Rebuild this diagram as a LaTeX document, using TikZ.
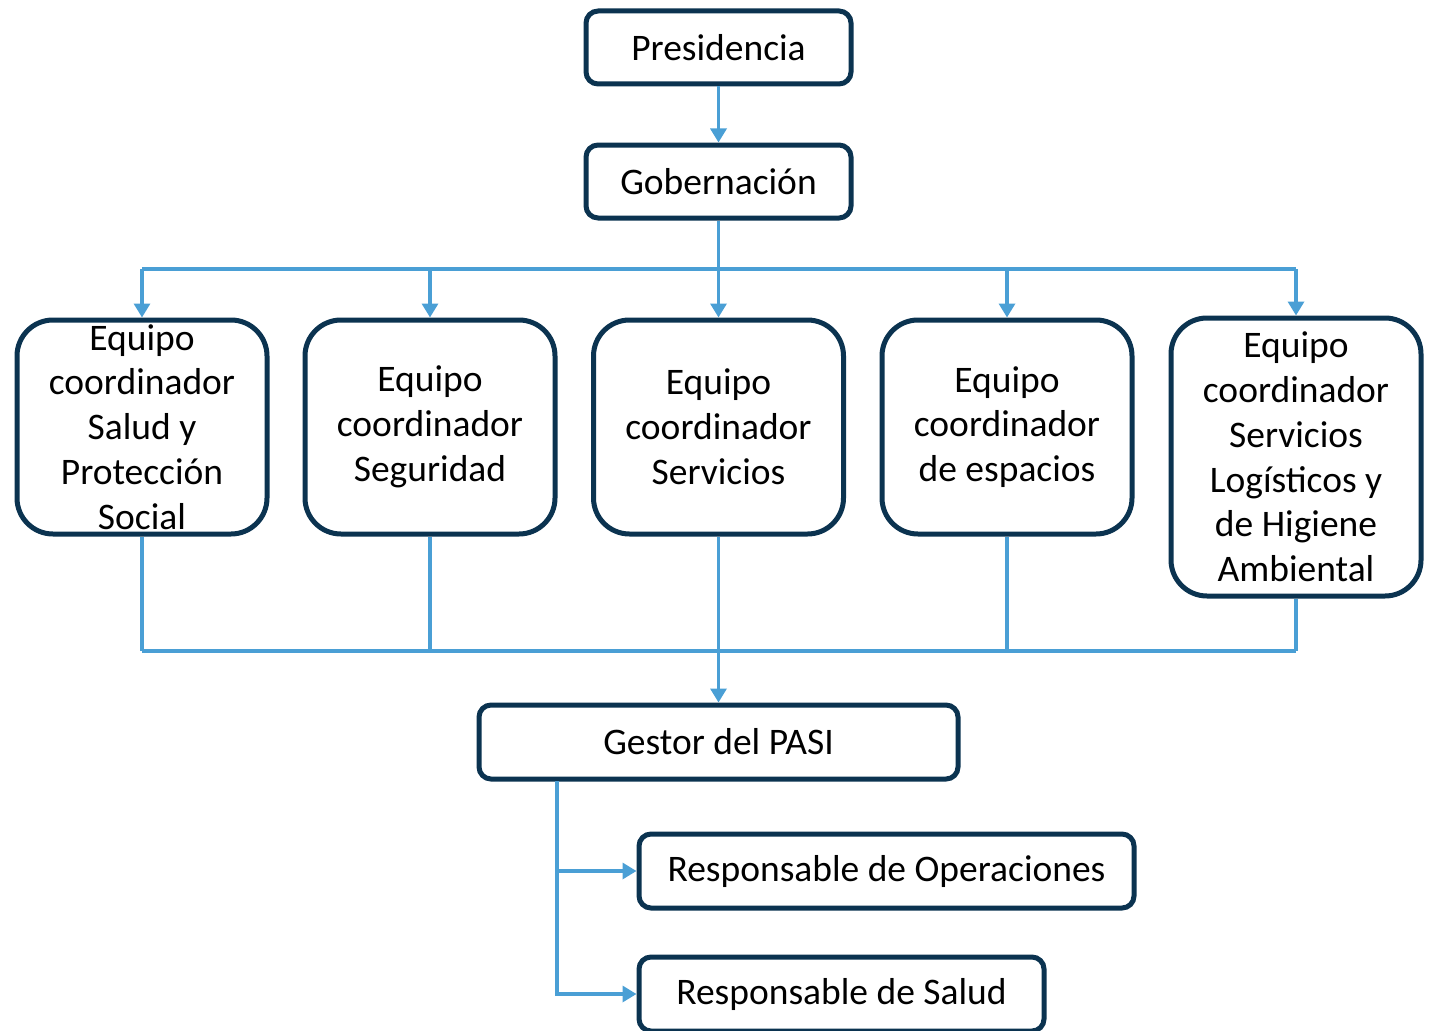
\documentclass[tikz,border=0pt]{standalone}
\usepackage{fontspec}
\setmainfont{Carlito}
\usetikzlibrary{arrows.meta}
\definecolor{navy}{HTML}{0B3350}
\definecolor{lblue}{HTML}{4A9FD5}
\tikzset{
  smallbox/.style={draw=navy, line width=5pt, rounded corners=12pt, fill=white,
    inner sep=0pt, align=center, font=\fontsize{37.5}{45}\selectfont},
  bigbox/.style={draw=navy, line width=5pt, rounded corners=36pt, fill=white,
    inner sep=0pt, align=center, minimum width=250pt, font=\fontsize{37.5}{44.8}\selectfont},
  conn/.style={draw=lblue, line width=3.3pt},
  arr/.style={conn, -{Triangle[width=16pt,length=14pt]}}
}
\begin{document}
\begin{tikzpicture}[x=1pt,y=-1pt]
\useasboundingbox (0,0) rectangle (1431,1030);
\node[smallbox, minimum width=265pt, minimum height=73pt] (pres) at (718.5,47.5) {Presidencia};
\node[smallbox, minimum width=265pt, minimum height=73pt] (gob) at (718.5,181.5) {Gobernación};

\node[bigbox, minimum height=214pt] (e1) at (142,427) {Equipo\\coordinador\\Salud y\\Protección\\Social};
\node[bigbox, minimum height=214pt] (e2) at (430,427) {Equipo\\coordinador\\Seguridad};
\node[bigbox, minimum height=214pt] (e3) at (718.5,427) {Equipo\\coordinador\\Servicios};
\node[bigbox, minimum height=214pt] (e4) at (1007,427) {Equipo\\coordinador\\de espacios};
\node[bigbox, minimum height=278pt] (e5) at (1296,457) {Equipo\\coordinador\\Servicios\\Logísticos y\\de Higiene\\Ambiental};

\node[smallbox, minimum width=479pt, minimum height=74pt] (ges) at (718.5,742) {Gestor del PASI};
\node[smallbox, minimum width=495pt, minimum height=74pt] (ops) at (886.5,871) {Responsable de Operaciones};
\node[smallbox, minimum width=405pt, minimum height=74pt] (sal) at (841.5,994) {Responsable de Salud};

\draw[arr] (pres) -- (gob);

\coordinate (tb) at (718.5,269);
\draw[conn] (gob.south) -- (tb);
\draw[conn] (tb -| e1.north) -- (tb -| e5.north);
\foreach \e in {e1,e2,e3,e4,e5} {
  \draw[arr] (tb -| \e.north) -- (\e.north);
}

\coordinate (bb) at (718.5,651);
\foreach \e in {e1,e2,e3,e4,e5} {
  \draw[conn] (\e.south) -- (bb -| \e.south);
}
\draw[conn] (bb -| e1.south) -- (bb -| e5.south);
\draw[arr] (bb) -- (ges.north);

\coordinate (gv) at (557,781);
\draw[arr] (gv) |- (ops.west);
\draw[arr] (gv) |- (sal.west);
\end{tikzpicture}
\end{document}
